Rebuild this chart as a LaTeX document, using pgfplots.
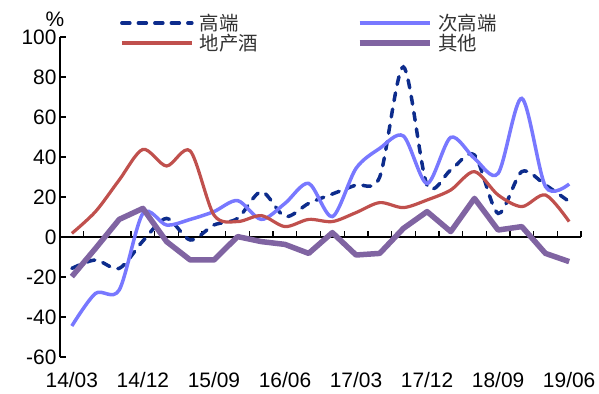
\documentclass[border=0pt]{standalone}
\usepackage{fontspec}
\setmainfont{Liberation Sans}
\newfontfamily\cjk{Noto Sans CJK SC}
\usepackage{pgfplots}
\usepackage{pgfplotstable}
\pgfplotsset{compat=1.18}
\definecolor{hi}{HTML}{0D2C8C}
\definecolor{sub}{HTML}{7878FF}
\definecolor{loc}{HTML}{C0504D}
\definecolor{oth}{HTML}{8064A2}
\pgfplotstableread{
i hi sub loc oth
0 -15.7 -44.5 1.8 -19.8
1 -11.5 -28.2 12.7 -5.7
2 -15.7 -26.5 28.5 8.8
3 -2.0 11.8 43.8 14.3
4 9.3 6.0 35.5 -2.3
5 -1.5 8.8 43.0 -11.5
6 6.0 12.7 11.0 -11.5
7 9.3 18.2 7.7 0.2
8 22.7 8.8 10.7 -2.3
9 10.2 16.8 5.2 -3.7
10 16.8 26.8 8.8 -8.2
11 21.5 10.2 7.7 2.2
12 26.0 34.3 12.2 -9.0
13 30.0 44.3 17.2 -8.2
14 85.0 50.5 14.7 4.3
15 26.0 26.8 18.5 12.7
16 33.5 49.8 23.5 2.7
17 41.0 39.3 32.7 19.3
18 11.8 31.8 21.0 3.5
19 32.7 69.3 15.2 5.2
20 26.0 25.2 21.0 -8.2
21 17.7 26.5 7.7 -12.3
}\data
\begin{document}
\begin{tikzpicture}
\useasboundingbox (-60bp,-37bp) rectangle (539bp,357bp);
\begin{axis}[
  at={(0,0)}, anchor=south west,
  scale only axis, width=521bp, height=320bp,
  xmin=-0.5, xmax=21.5, ymin=-60, ymax=100,
  clip=false,
  axis y line=left, axis x line=middle,
  axis line style={-, line width=1.3bp, black},
  tick style={line width=1.3bp, black},
  tick align=inside,
  major tick length=6bp,
  ytick={-60,-40,...,100},
  yticklabels={-60,-40,-20,0,20,40,60,80,100},
  xtick={-0.5,0.5,...,21.5},
  xticklabels={},
  extra x ticks={0,3,...,21},
  extra x tick labels={14/03,14/12,15/09,16/06,17/03,17/12,18/09,19/06},
  extra x tick style={major tick length=0bp, xticklabel style={anchor=north, yshift=-132bp}},
  ticklabel style={font=\fontsize{21}{24}\selectfont},
  legend columns=2,
  legend style={at={(axis description cs:0.115,1.075)}, anchor=north west,
    draw=none, fill=none, inner sep=0bp,
    font=\cjk\fontsize{19.5}{21}\selectfont, text=black!80,
    nodes={inner sep=1bp, anchor=west},
    /tikz/every even column/.append style={column sep=98bp},
    /tikz/every odd column/.append style={column sep=5bp}},
  legend image code/.code={\draw[#1] (0bp,0bp) -- (70bp,0bp);},
]
\addplot[hi, line width=3.5bp, dash pattern=on 8bp off 8.5bp, line cap=round, smooth] table[x=i,y=hi]{\data};
\addlegendentry{高端}
\addplot[sub, line width=3.5bp, smooth] table[x=i,y=sub]{\data};
\addlegendentry{次高端}
\addplot[loc, line width=3.2bp, smooth] table[x=i,y=loc]{\data};
\addlegendentry{地产酒}
\addplot[oth, line width=5.5bp, line join=round] table[x=i,y=oth]{\data};
\addlegendentry{其他}
\end{axis}
\node[font=\fontsize{21}{24}\selectfont] at (-5bp,338bp) {\%};
\end{tikzpicture}
\end{document}
